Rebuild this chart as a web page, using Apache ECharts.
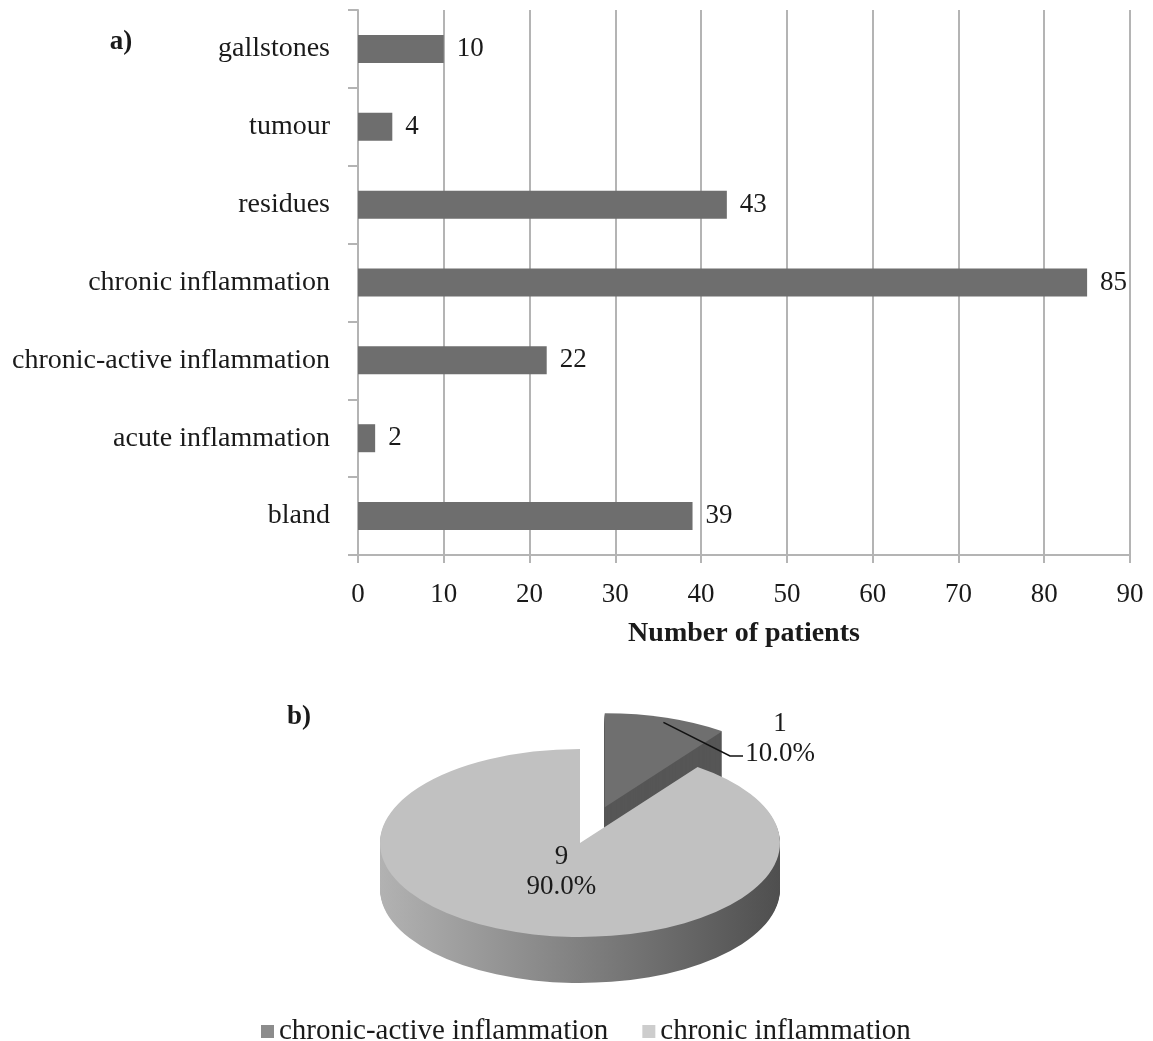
<!DOCTYPE html>
<html>
<head>
<meta charset="utf-8">
<script src="https://cdn.jsdelivr.net/npm/echarts@6/dist/echarts.min.js"></script>
<style>
  html, body { margin: 0; padding: 0; background: #ffffff; }
  #chart { width: 1153px; height: 1041px; }
</style>
</head>
<body>
<div id="chart"></div>
<script>
// a) histopathological findings
const findingCategories = [
  'gallstones', 'tumour', 'residues', 'chronic inflammation',
  'chronic-active inflammation', 'acute inflammation', 'bland'
];
const findingCounts = [10, 4, 43, 85, 22, 2, 39];
const patientAxisMin = 0;
const patientAxisMax = 90;
const patientAxisStep = 10;

// b) type of inflammation
const inflammationTypes = ['chronic-active inflammation', 'chronic inflammation'];
const inflammationCounts = [1, 9];

const FONT = '"Liberation Serif", "Times New Roman", serif';
const TEXT = '#1a1a1a';
const BAR = '#6e6e6e';
const GRID = '#b4b4b4';

const sliceTop = ['#6f6f6f', '#c1c1c1'];
const sliceSide = [
  '#565656',
  { type: 'linear', x: -200, y: 0, x2: 200, y2: 0, global: true,
    colorStops: [{ offset: 0, color: '#b2b2b2' }, { offset: 1, color: '#4f4f4f' }] }
];

// tilted pie geometry
const PIE = { cx: 580, cy: 843, rx: 200, ry: 94, depth: 46, explode: 80 };

function renderSlice(params, api) {
  const i = params.dataIndex;
  const total = inflammationCounts.reduce((a, b) => a + b, 0);
  let before = 0;
  for (let k = 0; k < i; k++) before += inflammationCounts[k];
  const a0 = -Math.PI / 2 + before / total * Math.PI * 2;
  const a1 = a0 + inflammationCounts[i] / total * Math.PI * 2;
  const mid = (a0 + a1) / 2;
  const s = PIE.ry / PIE.rx;
  const off = i === 0 ? PIE.explode : 0;
  const ox = PIE.cx + Math.cos(mid) * off;
  const oy = PIE.cy + Math.sin(mid) * off * s;
  const shape = { cx: 0, cy: 0, r: PIE.rx, startAngle: a0, endAngle: a1, clockwise: true };
  const children = [];
  // extruded side walls
  for (let k = PIE.depth; k >= 1; k--) {
    children.push({
      type: 'sector', x: ox, y: oy + k, scaleY: s, silent: true,
      shape: shape, style: { fill: sliceSide[i] }
    });
  }
  // top face
  children.push({
    type: 'sector', x: ox, y: oy, scaleY: s,
    shape: shape, style: { fill: sliceTop[i] }
  });
  const pct = (inflammationCounts[i] / total * 100).toFixed(1) + '%';
  const labelText = inflammationCounts[i] + '\n' + pct;
  if (i === 0) {
    const sx = ox + Math.cos(mid) * PIE.rx * 0.95;
    const sy = oy + Math.sin(mid) * PIE.ry * 0.95;
    children.push({
      type: 'polyline',
      shape: { points: [[sx, sy], [PIE.cx + 150, PIE.cy - 87], [PIE.cx + 163, PIE.cy - 87]] },
      style: { stroke: '#111', lineWidth: 1.5, fill: null }
    });
    children.push({
      type: 'text', x: PIE.cx + 200, y: PIE.cy - 104,
      style: { text: labelText, font: '27px ' + FONT, fill: TEXT,
               align: 'center', verticalAlign: 'middle', lineHeight: 30 }
    });
  } else {
    children.push({
      type: 'text',
      x: ox + Math.cos(mid) * PIE.rx * 0.3,
      y: oy + Math.sin(mid) * PIE.ry * 0.3 + 2,
      style: { text: labelText, font: '27px ' + FONT, fill: TEXT,
               align: 'center', verticalAlign: 'middle', lineHeight: 30 }
    });
  }
  return { type: 'group', children: children };
}

const chart = echarts.init(document.getElementById('chart'), null, { renderer: 'canvas' });

chart.setOption({
  backgroundColor: '#ffffff',
  animation: false,
  textStyle: { fontFamily: FONT, color: TEXT },
  grid: { left: 358, right: 23, top: 10, bottom: 486, containLabel: false },
  xAxis: {
    type: 'value',
    min: patientAxisMin, max: patientAxisMax, interval: patientAxisStep,
    name: 'Number of patients',
    nameLocation: 'middle',
    nameGap: 65,
    nameTextStyle: { fontFamily: FONT, fontSize: 28, fontWeight: 'bold', color: TEXT },
    axisLine: { show: true, lineStyle: { color: GRID, width: 2 } },
    axisTick: { show: true, length: 8, lineStyle: { color: GRID, width: 2 } },
    axisLabel: { fontFamily: FONT, fontSize: 27, color: TEXT, margin: 26 },
    splitLine: { show: true, lineStyle: { color: GRID, width: 2 } }
  },
  yAxis: {
    type: 'category',
    inverse: true,
    data: findingCategories,
    axisLine: { show: true, lineStyle: { color: GRID, width: 2 } },
    axisTick: { show: true, length: 10, lineStyle: { color: GRID, width: 2 } },
    axisLabel: { fontFamily: FONT, fontSize: 28, color: TEXT, margin: 28 },
    splitLine: { show: false }
  },
  legend: {
    left: 256, top: 1012,
    itemWidth: 13, itemHeight: 13, itemGap: 34,
    icon: 'rect',
    data: inflammationTypes,
    textStyle: { fontFamily: FONT, fontSize: 29, color: TEXT }
  },
  graphic: [
    { type: 'text', x: 121, y: 42,
      style: { text: 'a)', font: 'bold 27px ' + FONT, fill: TEXT, align: 'center', verticalAlign: 'middle' } },
    { type: 'text', x: 299, y: 717,
      style: { text: 'b)', font: 'bold 27px ' + FONT, fill: TEXT, align: 'center', verticalAlign: 'middle' } }
  ],
  series: [
    {
      type: 'bar',
      data: findingCounts,
      barWidth: 28,
      itemStyle: { color: BAR },
      label: { show: true, position: 'right', distance: 13,
               fontFamily: FONT, fontSize: 27, color: TEXT },
      silent: true
    },
    {
      type: 'custom',
      coordinateSystem: 'none',
      data: inflammationCounts.map((v, i) => ({ value: v, name: inflammationTypes[i] })),
      renderItem: renderSlice,
      silent: true
    },
    // legend entries for the pie slices
    { type: 'scatter', name: inflammationTypes[0], data: [], itemStyle: { color: sliceTop[0] } },
    { type: 'scatter', name: inflammationTypes[1], data: [], itemStyle: { color: sliceTop[1] } }
  ]
});
</script>
</body>
</html>
